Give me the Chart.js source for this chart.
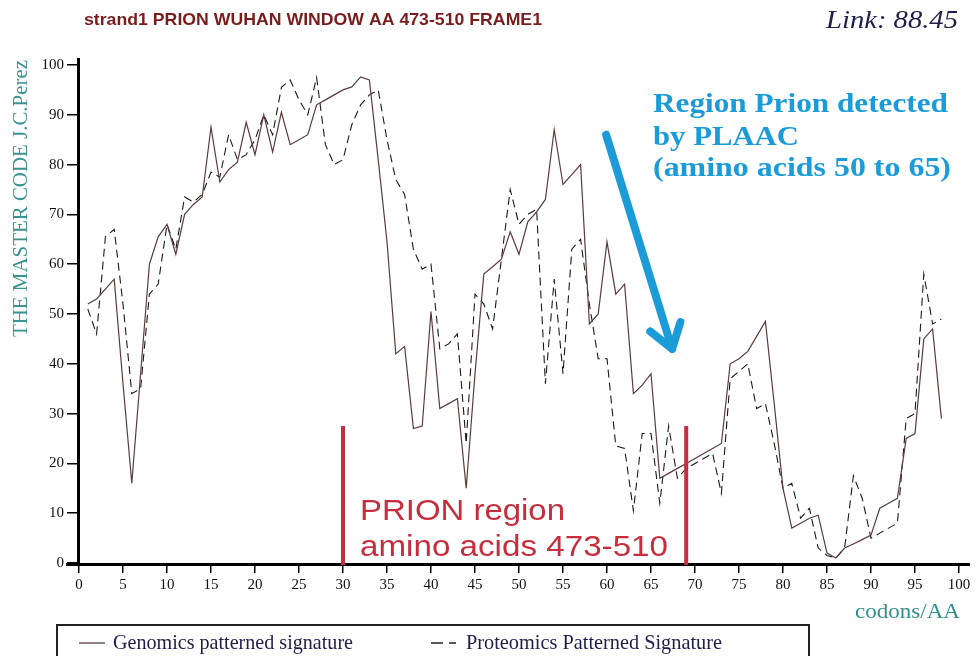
<!DOCTYPE html>
<html>
<head>
<meta charset="utf-8">
<script src="https://cdn.jsdelivr.net/npm/chart.js@4.4.1/dist/chart.umd.min.js"></script>
<style>
html,body{margin:0;padding:0;background:#fff;}
#wrap{width:976px;height:656px;}
</style>
</head>
<body>
<div id="wrap"><canvas id="c" width="976" height="656"></canvas></div>
<script>
// ---- data ----
const codons = [];
for (let i = 1; i <= 98; i++) codons.push(i);

const genomics = [
 52,53,55,57,36,16,38,60,65.5,68,
 62,70,72,73.5,87.5,76.5,79,80.5,88.5,82,
 90,82.5,90.5,84,85,86,92,93,94,95,
 95.6,97.6,97,81,64.5,42,43.5,27,27.5,50.5,
 31,32,33,15,38,58,59.5,61,66.5,62,
 68.5,70.5,73,87,76,78,80,48,50,64.5,
 54,56,34,35.7,38,17,18,19,20,21,
 22,23,24,40,41,42.5,45.5,48.5,32,15,
 7,8,9,9.6,2,1,3,3.8,4.7,5.6,
 11,12,13,25,26,45,47,29
];

const proteomics = [
 51,46,65.5,67,52,34,35,54,56,68,
 63,73.5,72.5,74,78.5,77.5,86,81,82,85,
 90,86,95.5,97,93,90,97.5,84,80,81,
 88,92,94,95,85,77,74,63,59,60,
 43,44,46,24,54,52,47,61,75,68,
 70,71,36,57,38,63,65,52,41,41,
 23.5,23,10.5,26,26,12,27.5,17,19,20,
 21,22,14,37,38.5,40,31,32,24,15,
 16,9,11,3,1.5,1,3,17.5,13,5,
 6,7,8,29,30,58,48,49
];

const xTicks = [0,5,10,15,20,25,30,35,40,45,50,55,60,65,70,75,80,85,90,95,100];
const yTicks = [0,10,20,30,40,50,60,70,80,90,100];

const prionRegionX = [30, 69];
const prionRegionTop = 27.5;
const arrowFrom = [59.9, 86];
const arrowTo = [67.4, 43];

const seriesNames = ['Genomics patterned signature', 'Proteomics Patterned Signature'];

// ---- helpers ----
function fitText(ctx, text, x, y, w, font, color, align) {
  ctx.save();
  ctx.font = font;
  ctx.fillStyle = color;
  ctx.textBaseline = 'alphabetic';
  ctx.textAlign = 'left';
  const m = ctx.measureText(text).width;
  const sx = w / m;
  let x0 = x;
  if (align === 'right') x0 = x - w;
  ctx.translate(x0, y);
  ctx.scale(sx, 1);
  ctx.fillText(text, 0, 0);
  ctx.restore();
}

const decor = {
  id: 'decor',
  afterDatasetsDraw(chart) {
    const ctx = chart.ctx;
    const xs = chart.scales.x, ys = chart.scales.y;
    const ca = chart.chartArea;

    // axis lines
    ctx.save();
    ctx.strokeStyle = '#000';
    ctx.lineWidth = 3;
    ctx.beginPath();
    ctx.moveTo(ca.left - 0.5, ca.top - 7);
    ctx.lineTo(ca.left - 0.5, ca.bottom + 3);
    ctx.stroke();
    ctx.beginPath();
    ctx.moveTo(ca.left - 13, ca.bottom + 1.5);
    ctx.lineTo(ca.right + 11, ca.bottom + 1.5);
    ctx.stroke();
    ctx.restore();

    // red prion region lines
    ctx.save();
    ctx.strokeStyle = '#c62d3d';
    ctx.lineWidth = 4;
    prionRegionX.forEach(v => {
      const px = xs.getPixelForValue(v);
      ctx.beginPath();
      ctx.moveTo(px, ys.getPixelForValue(prionRegionTop));
      ctx.lineTo(px, ys.getPixelForValue(0) + 2);
      ctx.stroke();
    });
    ctx.restore();
    fitText(ctx, 'PRION region', 360, 520, 205, '29px "Liberation Sans", Arial, sans-serif', '#c62d3d');
    fitText(ctx, 'amino acids 473-510', 360, 556, 308, '29px "Liberation Sans", Arial, sans-serif', '#c62d3d');

    // blue arrow
    const ax0 = xs.getPixelForValue(arrowFrom[0]), ay0 = ys.getPixelForValue(arrowFrom[1]);
    const ax1 = xs.getPixelForValue(arrowTo[0]), ay1 = ys.getPixelForValue(arrowTo[1]);
    ctx.save();
    ctx.strokeStyle = '#1b9bd7';
    ctx.lineWidth = 8;
    ctx.lineCap = 'round';
    ctx.lineJoin = 'round';
    ctx.beginPath();
    ctx.moveTo(ax0, ay0);
    ctx.lineTo(ax1, ay1);
    ctx.stroke();
    const ang = Math.atan2(ay0 - ay1, ax0 - ax1);
    const L = 28;
    ctx.beginPath();
    ctx.moveTo(ax1 + L * Math.cos(ang + 0.6), ay1 + L * Math.sin(ang + 0.6));
    ctx.lineTo(ax1, ay1);
    ctx.lineTo(ax1 + L * Math.cos(ang - 0.6), ay1 + L * Math.sin(ang - 0.6));
    ctx.stroke();
    ctx.restore();
    const bf = 'bold 27px "Liberation Serif", "Times New Roman", serif';
    fitText(ctx, 'Region Prion detected', 653, 112, 295, bf, '#1b9bd7');
    fitText(ctx, 'by PLAAC', 653, 145, 146, bf, '#1b9bd7');
    fitText(ctx, '(amino acids 50 to 65)', 653, 176, 298, bf, '#1b9bd7');
  },
  afterDraw(chart) {
    const ctx = chart.ctx;
    // title
    fitText(ctx, 'strand1 PRION WUHAN WINDOW AA 473-510 FRAME1', 84, 25, 458, 'bold 17px "Liberation Sans", Arial, sans-serif', '#7a1c1c');
    fitText(ctx, 'Link: 88.45', 958, 28, 132, 'italic 26px "Liberation Serif", "Times New Roman", serif', '#1e1e4a', 'right');
    // y axis title
    ctx.save();
    ctx.translate(27, 337);
    ctx.rotate(-Math.PI / 2);
    fitText(ctx, 'THE MASTER CODE J.C.Perez', 0, 0, 277, '20px "Liberation Serif", "Times New Roman", serif', '#3a9292');
    ctx.restore();
    // x axis title
    fitText(ctx, 'codons/AA', 855, 618, 105, '21px "Liberation Serif", "Times New Roman", serif', '#2f8f8f');
    // legend box
    ctx.save();
    ctx.strokeStyle = '#222';
    ctx.lineWidth = 2;
    ctx.strokeRect(57, 625, 752, 50);
    ctx.strokeStyle = '#5b3b3b';
    ctx.lineWidth = 1.3;
    ctx.beginPath(); ctx.moveTo(79, 643); ctx.lineTo(105, 643); ctx.stroke();
    ctx.strokeStyle = '#222';
    ctx.beginPath(); ctx.moveTo(431, 643); ctx.lineTo(443, 643); ctx.moveTo(449, 643); ctx.lineTo(456, 643); ctx.stroke();
    ctx.restore();
    const lf = '21px "Liberation Serif", "Times New Roman", serif';
    fitText(ctx, seriesNames[0], 113, 649, 240, lf, '#1e1e4a');
    fitText(ctx, seriesNames[1], 466, 649, 256, lf, '#1e1e4a');
  }
};

const tickFont = { family: '"Liberation Serif", "Times New Roman", serif', size: 15 };

new Chart(document.getElementById('c'), {
  type: 'line',
  data: {
    datasets: [
      {
        label: seriesNames[0],
        data: codons.map((x, i) => ({ x: x, y: genomics[i] })),
        borderColor: '#5b3b3b',
        borderWidth: 1.2,
        pointRadius: 0,
        tension: 0,
        fill: false
      },
      {
        label: seriesNames[1],
        data: codons.map((x, i) => ({ x: x, y: proteomics[i] })),
        borderColor: '#1a1a1a',
        borderWidth: 1.1,
        borderDash: [8, 5],
        pointRadius: 0,
        tension: 0,
        fill: false
      }
    ]
  },
  options: {
    responsive: false,
    animation: false,
    devicePixelRatio: 1,
    layout: { padding: { left: 0, top: 65, right: 17, bottom: 53 } },
    plugins: { legend: { display: false }, tooltip: { enabled: false }, title: { display: false } },
    scales: {
      x: {
        type: 'linear',
        min: 0, max: 100,
        afterFit(s) { s.height = 40; },
        afterBuildTicks(s) { s.ticks = xTicks.map(v => ({ value: v })); },
        ticks: { autoSkip: false, maxRotation: 0, color: '#111', font: tickFont, padding: 3 },
        grid: { display: true, drawOnChartArea: false, drawTicks: true, tickLength: 10, color: '#000', lineWidth: 1.5 },
        border: { display: false }
      },
      y: {
        min: 0, max: 100,
        afterFit(s) { s.width = 79; },
        afterBuildTicks(s) { s.ticks = yTicks.map(v => ({ value: v })); },
        ticks: { autoSkip: false, color: '#111', font: tickFont, padding: 3 },
        grid: { display: true, drawOnChartArea: false, drawTicks: true, tickLength: 12, color: '#000', lineWidth: 1.5 },
        border: { display: false }
      }
    }
  },
  plugins: [decor]
});
</script>
</body>
</html>
